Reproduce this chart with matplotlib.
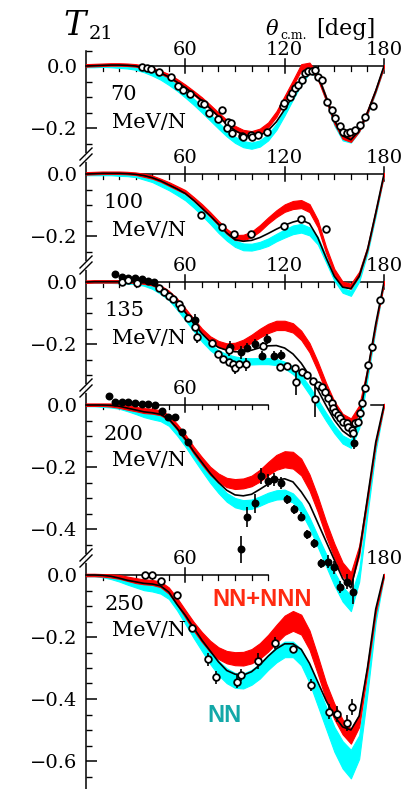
import matplotlib.pyplot as plt

plt.rcParams['font.family'] = ['DejaVu Serif', 'DejaVu Sans']

W, H = 409, 789

# angle grid of the theory curves [deg]
ANG = [0, 5, 10, 15, 20, 25, 30, 35, 40, 45,
       50, 55, 60, 65, 70, 75, 80, 85, 90, 95,
       100, 105, 110, 115, 120, 125, 130, 135, 140, 145,
       150, 155, 160, 165, 170, 175, 180]

# ---- 70 MeV/N ----
BLK70 = [0, .001, .002, .003, .003, .002, 0, -.005, -.012, -.022,
         -.035, -.052, -.070, -.090, -.112, -.137, -.163, -.188, -.208, -.222,
         -.228, -.224, -.208, -.180, -.140, -.095, -.048, -.008, -.030, -.100,
         -.175, -.225, -.238, -.208, -.150, -.080, 0]
RED70 = [.002, .003, .004, .005, .005, .004, .002, -.003, -.010, -.020,
         -.032, -.048, -.066, -.086, -.108, -.132, -.157, -.181, -.201, -.214,
         -.218, -.210, -.190, -.155, -.105, -.055, -.004, .001, -.035, -.105,
         -.180, -.228, -.238, -.205, -.147, -.077, 0]
REDW70 = [.004, .004, .004, .004, .004, .004, .004, .005, .005, .005,
          .006, .006, .006, .006, .007, .007, .007, .007, .008, .008,
          .008, .008, .008, .009, .009, .009, .010, .010, .008, .007,
          .007, .007, .007, .006, .006, .005, .004]
CYN70 = [-.001, -.001, 0, 0, -.001, -.002, -.005, -.012, -.022, -.035,
         -.051, -.070, -.092, -.115, -.140, -.166, -.192, -.217, -.238, -.252,
         -.257, -.250, -.230, -.196, -.150, -.100, -.053, -.015, -.030, -.105,
         -.185, -.233, -.240, -.206, -.150, -.080, 0]
CYNW70 = [.003, .003, .003, .004, .005, .006, .007, .008, .009, .009,
          .010, .010, .010, .010, .010, .010, .010, .010, .010, .010,
          .010, .010, .010, .010, .009, .008, .007, .007, .007, .007,
          .007, .007, .007, .006, .006, .005, .004]
OPEN70_X = [33.6, 36.6, 39.1, 44.3, 51.1, 55.4, 58.8, 62.8, 69.4, 71.3,
            74.5, 79.9, 81.9, 85.9, 87.4, 84.9, 88.0, 94.0, 95.0, 99.4,
            100.0, 104.1, 109.1, 118.8, 119.6, 123.2, 124.2, 126.2, 128.2, 130.2,
            132.3, 134.3, 136.7, 138.3, 140.3, 142.3, 145.3, 148.3, 150.4, 153.4,
            155.4, 157.4, 159.4, 162.4, 165.5, 168.5, 173.5]
OPEN70_Y = [-.004, -.008, -.011, -.018, -.037, -.065, -.077, -.091, -.120, -.124,
            -.153, -.171, -.142, -.180, -.185, -.201, -.217, -.225, -.228, -.223,
            -.230, -.223, -.212, -.129, -.120, -.099, -.088, -.072, -.061, -.045,
            -.022, -.015, -.015, -.013, -.034, -.045, -.115, -.142, -.169, -.194,
            -.212, -.217, -.212, -.206, -.190, -.163, -.129]

# ---- 100 MeV/N ----
BLK100 = [0, .001, .002, .002, .002, .001, -.001, -.005, -.012, -.022,
          -.035, -.048, -.063, -.085, -.110, -.135, -.162, -.190, -.212, -.217,
          -.214, -.205, -.192, -.178, -.165, -.155, -.148, -.160, -.205, -.270,
          -.330, -.365, -.370, -.330, -.245, -.125, 0]
RED100 = [.002, .003, .004, .004, .004, .003, .001, -.004, -.010, -.020,
          -.032, -.045, -.058, -.080, -.104, -.130, -.158, -.185, -.205, -.205,
          -.195, -.175, -.150, -.128, -.110, -.100, -.097, -.110, -.160, -.245,
          -.315, -.355, -.362, -.322, -.240, -.120, 0]
REDW100 = [.004, .004, .004, .004, .004, .004, .004, .005, .005, .005,
           .006, .006, .006, .006, .007, .007, .007, .008, .008, .009,
           .009, .010, .010, .011, .012, .013, .013, .013, .012, .010,
           .009, .008, .008, .007, .006, .005, .004]
CYN100 = [-.001, -.001, -.001, -.001, -.002, -.003, -.005, -.012, -.020, -.032,
          -.045, -.060, -.077, -.100, -.125, -.152, -.180, -.205, -.225, -.235,
          -.236, -.230, -.220, -.205, -.192, -.180, -.175, -.185, -.215, -.275,
          -.335, -.375, -.385, -.340, -.250, -.130, 0]
CYNW100 = [.003, .003, .003, .003, .004, .004, .005, .006, .006, .007,
           .007, .008, .008, .008, .009, .009, .010, .010, .010, .011,
           .011, .011, .012, .012, .013, .014, .014, .013, .012, .010,
           .009, .008, .008, .007, .006, .005, .004]
OPEN100_X = [69.4, 82.3, 89.6, 99.6, 119.6, 129.8, 144.7]
OPEN100_Y = [-.132, -.170, -.194, -.194, -.167, -.145, -.177]

# ---- 135 MeV/N ----
BLK135 = [0, .001, .001, .001, .001, .001, 0, -.002, -.008, -.020,
          -.038, -.066, -.098, -.133, -.166, -.193, -.211, -.220, -.225, -.225,
          -.220, -.212, -.206, -.205, -.213, -.232, -.262, -.302, -.348, -.398,
          -.445, -.480, -.500, -.445, -.290, -.135, 0]
RED135 = [.001, .002, .002, .002, .002, .002, .001, -.001, -.006, -.017,
          -.034, -.060, -.092, -.126, -.158, -.184, -.200, -.208, -.207, -.198,
          -.183, -.165, -.150, -.140, -.140, -.148, -.172, -.212, -.272, -.340,
          -.400, -.440, -.455, -.410, -.285, -.135, 0]
REDW135 = [.004, .004, .004, .004, .004, .004, .004, .005, .005, .006,
           .006, .007, .007, .008, .008, .009, .010, .010, .011, .012,
           .013, .014, .015, .015, .015, .015, .015, .015, .015, .015,
           .015, .015, .015, .012, .008, .006, .004]
CYN135 = [0, 0, 0, 0, 0, -.001, -.002, -.006, -.015, -.030,
          -.050, -.080, -.113, -.148, -.182, -.210, -.230, -.243, -.250, -.255,
          -.256, -.255, -.255, -.258, -.268, -.285, -.312, -.350, -.392, -.435,
          -.475, -.508, -.522, -.460, -.305, -.145, 0]
CYNW135 = [.003, .003, .003, .003, .004, .004, .005, .006, .007, .008,
           .008, .009, .010, .010, .010, .010, .010, .010, .010, .010,
           .010, .010, .010, .010, .011, .012, .012, .013, .013, .013,
           .013, .013, .013, .011, .008, .006, .004]
OPEN135_X = [21.5, 25.2, 30.6, 44.3, 47.1, 50.3, 52.7, 56.2, 57.2, 61.8,
             65.8, 66.8, 76.3, 79.9, 82.9, 86.1, 86.6, 89.0, 90.0, 92.6,
             96.4, 106.7, 117.2, 121.6, 126.2, 126.8, 130.2, 133.6, 137.3, 138.3,
             140.3, 142.3, 144.3, 146.3, 148.4, 149.4, 150.4, 152.4, 153.4, 155.4,
             157.4, 158.4, 160.4, 161.4, 162.4, 164.4, 165.5, 166.5, 168.5, 170.5,
             172.5, 177.5]
OPEN135_Y = [.001, .006, -.004, -.018, -.033, -.044, -.056, -.071, -.085, -.115,
             -.144, -.176, -.198, -.233, -.248, -.257, -.219, -.265, -.276, -.265,
             -.266, -.206, -.273, -.270, -.278, -.324, -.289, -.300, -.318, -.377,
             -.332, -.338, -.354, -.375, -.391, -.408, -.418, -.429, -.440, -.451,
             -.456, -.467, -.477, -.488, -.456, -.451, -.424, -.391, -.343, -.268,
             -.209, -.058]
OPEN135_E = [0, 0, 0, 0, 0, 0, 0, 0, 0, 0,
             0, .02, .012, 0, 0, 0, .02, 0, .02, 0,
             .02, .012, 0, 0, 0, .04, 0, 0, 0, .06,
             0, 0, 0, 0, 0, 0, 0, 0, 0, 0,
             0, 0, 0, 0, 0, 0, 0, 0, 0, 0,
             0, 0]
FULL135_X = [17.5, 21.9, 25.6, 29.6, 33.6, 37.6, 41.1, 65.8, 87.0, 93.4,
             97.4, 102.1, 106.1, 109.5, 113.5, 117.5, 161.8]
FULL135_Y = [.025, .017, .014, .012, .009, .004, .001, -.123, -.209, -.227,
             -.212, -.200, -.238, -.184, -.238, -.235, -.520]
FULL135_E = [0, 0, 0, 0, 0, 0, 0, .02, .02, .02,
             .015, .015, .015, .015, .015, .015, .02]

# ---- 200 MeV/N ----
BLK200 = [0, 0, 0, -.001, -.004, -.010, -.016, -.022, -.025, -.030,
          -.045, -.075, -.110, -.150, -.185, -.220, -.250, -.275, -.290, -.293,
          -.288, -.272, -.255, -.242, -.238, -.248, -.280, -.320, -.380, -.440,
          -.500, -.560, -.590, -.480, -.300, -.120, 0]
RED200 = [.001, .001, .001, 0, -.003, -.008, -.013, -.018, -.020, -.025,
          -.040, -.070, -.105, -.145, -.180, -.212, -.235, -.250, -.255, -.253,
          -.245, -.228, -.205, -.185, -.175, -.178, -.200, -.250, -.320, -.400,
          -.470, -.530, -.560, -.470, -.300, -.120, 0]
REDW200 = [.004, .004, .004, .005, .006, .007, .007, .008, .008, .008,
           .008, .009, .010, .011, .012, .013, .014, .015, .016, .016,
           .017, .019, .021, .024, .026, .027, .027, .026, .025, .024,
           .023, .022, .020, .016, .010, .006, .004]
CYN200 = [-.001, -.001, -.002, -.003, -.006, -.013, -.021, -.030, -.036, -.042,
          -.057, -.087, -.122, -.162, -.200, -.238, -.270, -.298, -.315, -.322,
          -.320, -.310, -.298, -.290, -.288, -.300, -.330, -.380, -.440, -.500,
          -.560, -.610, -.640, -.550, -.340, -.140, 0]
CYNW200 = [.003, .003, .004, .005, .006, .007, .008, .009, .010, .010,
           .010, .011, .012, .012, .013, .013, .014, .014, .015, .015,
           .015, .015, .015, .015, .015, .015, .016, .017, .018, .020,
           .022, .024, .025, .020, .012, .007, .004]
FULL200_X = [13.9, 17.5, 21.5, 25.5, 29.6, 33.6, 37.6, 41.7, 45.7, 49.7,
             53.7, 57.8, 61.8, 93.4, 97.4, 102.1, 105.7, 109.7, 113.5, 117.8,
             121.6, 125.6, 129.6, 133.6, 137.7, 141.7, 146.3, 149.8, 153.4, 157.4,
             161.4]
FULL200_Y = [.030, .011, .011, .011, .005, .002, .003, 0, -.019, -.040,
             -.040, -.086, -.118, -.466, -.362, -.317, -.229, -.244, -.240, -.251,
             -.304, -.337, -.360, -.417, -.446, -.511, -.505, -.524, -.588, -.570,
             -.602]
FULL200_E = [0, 0, 0, 0, 0, 0, 0, 0, 0, 0,
             0, 0, 0, .045, .032, .030, .027, .02, .02, .02,
             .015, .015, .015, .015, .015, .015, .02, .02, .02, .025,
             .04]

# ---- 250 MeV/N ----
BLK250 = [0, 0, -.001, -.004, -.010, -.017, -.022, -.027, -.029, -.035,
          -.055, -.095, -.130, -.170, -.210, -.245, -.280, -.308, -.320, -.323,
          -.312, -.290, -.262, -.238, -.222, -.222, -.240, -.285, -.345, -.405,
          -.455, -.490, -.500, -.455, -.300, -.110, 0]
RED250 = [0, 0, -.001, -.003, -.006, -.012, -.018, -.022, -.024, -.030,
          -.050, -.085, -.125, -.165, -.200, -.230, -.252, -.265, -.270, -.270,
          -.262, -.245, -.220, -.190, -.162, -.148, -.160, -.210, -.290, -.375,
          -.440, -.490, -.520, -.470, -.300, -.115, 0]
REDW250 = [.004, .004, .004, .005, .006, .007, .008, .008, .008, .009,
           .010, .011, .012, .014, .016, .018, .019, .020, .021, .022,
           .023, .025, .027, .029, .031, .032, .032, .031, .029, .027,
           .025, .024, .024, .020, .012, .007, .004]
CYN250 = [-.001, -.001, -.003, -.008, -.015, -.024, -.032, -.040, -.043, -.049,
          -.065, -.100, -.142, -.185, -.225, -.265, -.300, -.325, -.340, -.342,
          -.330, -.310, -.282, -.257, -.240, -.240, -.265, -.320, -.390, -.460,
          -.530, -.580, -.610, -.555, -.360, -.140, 0]
CYNW250 = [.003, .003, .004, .005, .006, .007, .008, .009, .010, .011,
           .012, .014, .016, .018, .020, .022, .023, .024, .024, .024,
           .024, .024, .024, .025, .025, .025, .026, .028, .032, .036,
           .040, .044, .046, .038, .022, .010, .004]
OPEN250_X = [35.6, 39.7, 45.3, 54.7, 64.2, 73.9, 78.5, 91.0, 93.6, 103.7,
             114.3, 124.8, 135.7, 146.7, 151.8, 157.4, 160.8]
OPEN250_Y = [0, 0, -.018, -.065, -.170, -.272, -.330, -.344, -.323, -.277,
             -.220, -.240, -.355, -.441, -.448, -.478, -.425]
OPEN250_E = [0, 0, 0, 0, 0, .02, .02, .02, .02, .025,
             .02, .01, .02, .025, .025, .025, .025]

ENERGY = ['70', '100', '135', '200', '250']

# layout: pixel row of each panel's zero line, 310 px per unit of T21
ZERO_PX = [66, 174, 282, 405, 575]
SCALE = 310.0
OFF = [-(p - ZERO_PX[0]) / SCALE for p in ZERO_PX]
Y_BOT = -(H - ZERO_PX[0]) / SCALE
Y_TOP = ZERO_PX[0] / SCALE

fig = plt.figure(figsize=(W / 100, H / 100), dpi=100)
ax = fig.add_axes([86 / W, 0, 298 / W, 1])
ax.set_xlim(0, 180)
ax.set_ylim(Y_BOT, Y_TOP)
for s in ['top', 'right', 'bottom']:
    ax.spines[s].set_visible(False)
ax.spines['left'].set_bounds(Y_BOT, 0.05)
ax.spines['left'].set_linewidth(1.1)
ax.set_xticks([])

DEG_PX = 180 / 298.0

panels = [
    (BLK70, RED70, REDW70, CYN70, CYNW70),
    (BLK100, RED100, REDW100, CYN100, CYNW100),
    (BLK135, RED135, REDW135, CYN135, CYNW135),
    (BLK200, RED200, REDW200, CYN200, CYNW200),
    (BLK250, RED250, REDW250, CYN250, CYNW250),
]

# y ticks: labelled every 0.2, small ticks every 0.05
major, labels, minor = [], [], []
lims = [(0.05, -0.29), (0.0, -0.29), (0.0, -0.34), (0.0, -0.49), (0.0, -0.69)]
for off, (top, bot) in zip(OFF, lims):
    k = int(round(top * 20))
    while k / 20 >= bot - 1e-9:
        val = k / 20
        if k % 4 == 0:
            major.append(val + off)
            labels.append(f'{val:.1f}'.replace('-', '\u2212') if val != 0 else '0.0')
        else:
            minor.append(val + off)
        k -= 1
ax.set_yticks(major, labels=labels)
ax.set_yticks(minor, minor=True)
ax.tick_params(axis='y', which='major', direction='in', length=8, width=1.1,
               labelsize=14, pad=6)
ax.tick_params(axis='y', which='minor', direction='in', length=4, width=1.0)

# panel x axes (lines along T21 = 0)
for i, off in enumerate(OFF):
    segs = [(0, 180)] if i < 3 else [(0, 110)]
    if i == 3:
        segs.append((172, 180))
    for a, b in segs:
        ax.plot([a, b], [off, off], color='black', lw=1.1, zorder=1, clip_on=False)
    top_end = 180 if i < 3 else 110
    for t in range(10, top_end + 1, 10):
        if t % 60 == 0:
            ax.plot([t, t], [off - 7 / SCALE, off + 7 / SCALE], color='black', lw=1.1,
                    zorder=1, clip_on=False)
        else:
            ax.plot([t, t], [off, off - 4.5 / SCALE], color='black', lw=0.9,
                    zorder=1, clip_on=False)
    if i < 3:
        labs = [60, 120, 180]
    elif i == 3:
        labs = [60]
    else:
        labs = [60, 180]
    for t in labs:
        ax.text(t, off + 16 / SCALE, str(t), ha='center', va='center', fontsize=14,
                clip_on=False)

# bands and central curve
for i, (blk, red, redw, cyn, cynw) in enumerate(panels):
    off = OFF[i]
    ax.fill_between(ANG, [c - w + off for c, w in zip(cyn, cynw)],
                    [c + w + off for c, w in zip(cyn, cynw)],
                    color='#00ffff', ec='#00ffff', lw=0.8, zorder=2)
    ax.fill_between(ANG, [c - w + off for c, w in zip(red, redw)],
                    [c + w + off for c, w in zip(red, redw)],
                    color='#ff0000', ec='#ff0000', lw=0.8, zorder=3)
    ax.plot(ANG, [v + off for v in blk], color='black', lw=1.2, zorder=4)


def draw_points(x, y, off, err=None, filled=False):
    yy = [v + off for v in y]
    if err is not None:
        ax.errorbar(x, yy, yerr=err, fmt='none', ecolor='black', elinewidth=1.2,
                    capsize=0, zorder=5)
    ax.plot(x, yy, 'o', ms=4.8 if not filled else 4.4,
            mfc='black' if filled else 'white', mec='black', mew=1.3,
            zorder=6, clip_on=False)


draw_points(OPEN70_X, OPEN70_Y, OFF[0])
draw_points(OPEN100_X, OPEN100_Y, OFF[1])
draw_points(FULL135_X, FULL135_Y, OFF[2], FULL135_E, filled=True)
draw_points(OPEN135_X, OPEN135_Y, OFF[2], OPEN135_E)
draw_points(FULL200_X, FULL200_Y, OFF[3], FULL200_E, filled=True)
draw_points(OPEN250_X, OPEN250_Y, OFF[4], OPEN250_E)

# axis break marks on the left spine
for i in range(1, 5):
    yb = OFF[i] + 17 / SCALE
    ax.plot([0, 0], [yb - 3 / SCALE, yb + 3 / SCALE], color='white', lw=2,
            zorder=7, clip_on=False)
    for d in (-3, 3):
        ax.plot([-6 * DEG_PX, 6 * DEG_PX],
                [yb + (d - 6) / SCALE, yb + (d + 6) / SCALE],
                color='black', lw=1.0, zorder=8, clip_on=False)

# energy labels
for e, off in zip(ENERGY, OFF):
    ax.text(38 * DEG_PX, off - 29 / SCALE, e, ha='center', va='center', fontsize=15)
    ax.text(26 * DEG_PX, off - 56 / SCALE, 'MeV/N', ha='left', va='center', fontsize=15)


def ftext(xp, yp, s, **kw):
    fig.text(xp / W, 1 - yp / H, s, **kw)


ftext(63, 35, 'T', fontsize=24, style='italic', va='baseline')
ftext(89, 39, '21', fontsize=14, va='baseline')
ftext(266, 35, '\u03b8', fontsize=15, style='italic', va='baseline')
ftext(280, 39, 'c.m.', fontsize=9, va='baseline')
ftext(316, 35, '[deg]', fontsize=16, va='baseline')

ftext(212, 599, 'NN+NNN', fontsize=17, color='#ff2a10', weight='bold',
      family='Liberation Sans', va='center')
ftext(207, 716, 'NN', fontsize=17, color='#13a8a8', weight='bold',
      family='Liberation Sans', va='center')

fig.savefig('out.png', dpi=100)
